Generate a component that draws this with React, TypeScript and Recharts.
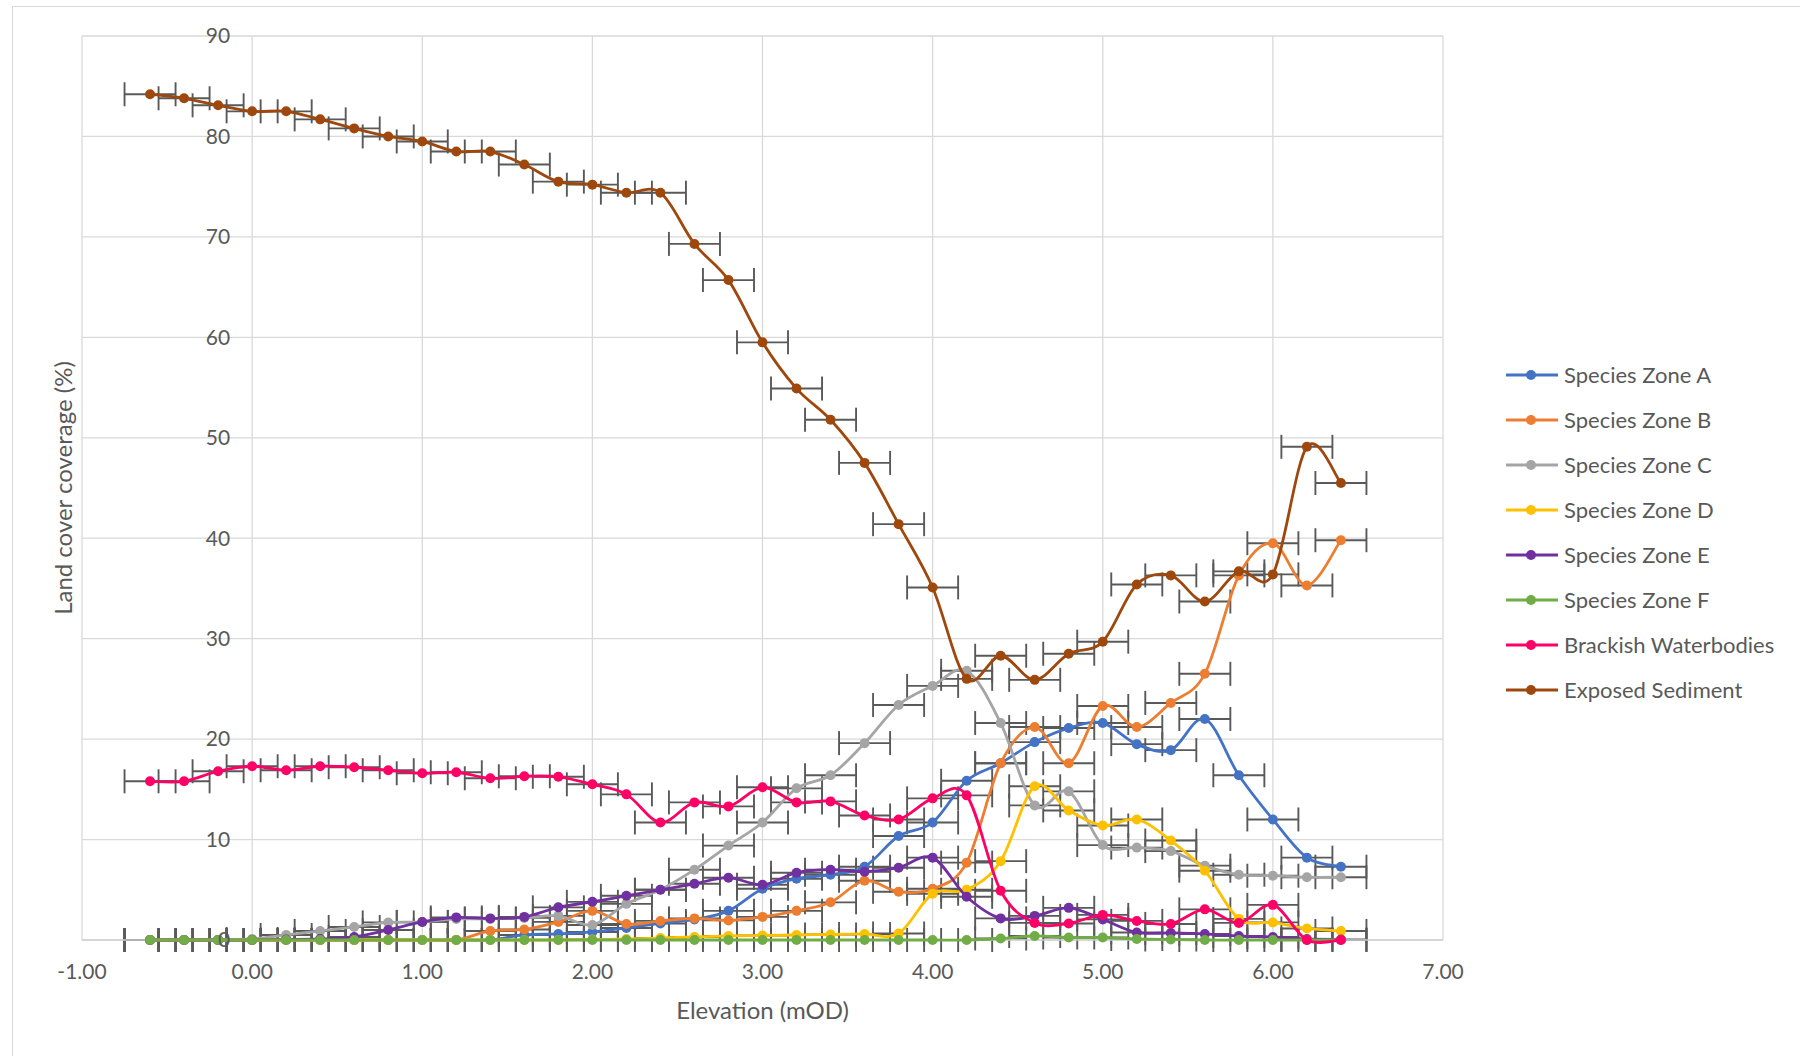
import { ComposedChart, Scatter, XAxis, YAxis, CartesianGrid, ErrorBar } from "recharts";

// elevation of each sample band (mOD) and its +/- range
const elevation = [
  -0.6, -0.4, -0.2, 0, 0.2, 0.4, 0.6, 0.8, 1.0, 1.2, 1.4, 1.6, 1.8, 2.0, 2.2, 2.4, 2.6, 2.8,
  3.0, 3.2, 3.4, 3.6, 3.8, 4.0, 4.2, 4.4, 4.6, 4.8, 5.0, 5.2, 5.4, 5.6, 5.8, 6.0, 6.2, 6.4,
];
const elevationError = 0.15;

// land cover coverage (%) per band
const zoneA = [
  0, 0, 0, 0, 0, 0, 0, 0, 0, 0, 0, 0.5, 0.6, 0.8, 1.2, 1.65, 2.05, 2.9,
  5.1, 6.1, 6.5, 7.3, 10.35, 11.7, 15.85, 17.6, 19.7, 21.1, 21.6, 19.5, 18.9, 22.0, 16.4, 12.0, 8.2, 7.3,
];
const zoneB = [
  0, 0, 0, 0, 0, 0, 0, 0, 0, 0, 0.9, 1.05, 1.8, 2.9, 1.6, 1.9, 2.15, 1.95,
  2.3, 2.9, 3.75, 5.9, 4.8, 5.1, 7.7, 17.6, 21.2, 17.6, 23.3, 21.2, 23.6, 26.5, 36.3, 39.5, 35.3, 39.8,
];
const zoneC = [
  0, 0, 0, 0.1, 0.5, 0.9, 1.3, 1.75, 1.8, 2.1, 2.1, 2.2, 2.4, 1.5, 3.6, 5.0, 7.0, 9.4,
  11.7, 15.1, 16.4, 19.6, 23.4, 25.3, 26.8, 21.6, 13.4, 14.8, 9.45, 9.2, 8.85, 7.4, 6.5, 6.4, 6.25, 6.25,
];
const zoneD = [
  0, 0, 0, 0, 0, 0, 0, 0, 0, 0, 0, 0, 0, 0.05, 0.1, 0.2, 0.3, 0.4,
  0.45, 0.5, 0.55, 0.6, 0.65, 4.6, 5.0, 7.85, 15.3, 12.9, 11.4, 12.0, 9.9, 6.9, 2.1, 1.75, 1.15, 0.9,
];
const zoneE = [
  0, 0, 0, 0, 0.05, 0.1, 0.3, 1.0, 1.8, 2.25, 2.15, 2.3, 3.25, 3.8, 4.4, 5.0, 5.6, 6.2,
  5.5, 6.7, 7.0, 6.8, 7.2, 8.2, 4.3, 2.15, 2.4, 3.2, 2.05, 0.75, 0.7, 0.6, 0.4, 0.3, 0.1, 0.05,
];
const zoneF = [
  0, 0, 0, 0, 0, 0, 0, 0, 0, 0, 0, 0, 0, 0, 0, 0, 0, 0,
  0, 0, 0, 0, 0, 0, 0, 0.15, 0.4, 0.25, 0.25, 0.1, 0.05, 0, 0, 0, 0, 0,
];
const brackish = [
  15.8, 15.8, 16.8, 17.3, 16.9, 17.3, 17.2, 16.9, 16.6, 16.7, 16.1, 16.3, 16.25, 15.5, 14.5, 11.7, 13.7, 13.3,
  15.2, 13.7, 13.8, 12.4, 12.0, 14.1, 14.4, 4.9, 1.7, 1.65, 2.5, 1.9, 1.6, 3.05, 1.7, 3.5, 0, 0,
];
const exposed = [
  84.2, 83.8, 83.1, 82.5, 82.5, 81.7, 80.8, 80.0, 79.5, 78.5, 78.5, 77.2, 75.5, 75.2, 74.4, 74.4, 69.3, 65.7,
  59.5, 54.9, 51.8, 47.5, 41.4, 35.1, 26.0, 28.3, 25.9, 28.5, 29.7, 35.4, 36.3, 33.7, 36.7, 36.4, 49.1, 45.5,
];

const xTicks = [-1, 0, 1, 2, 3, 4, 5, 6, 7];
const yTicks = [0, 10, 20, 30, 40, 50, 60, 70, 80, 90];

const series = [
  { name: "Species Zone A", color: "#4472C4", values: zoneA },
  { name: "Species Zone B", color: "#ED7D31", values: zoneB },
  { name: "Species Zone C", color: "#A5A5A5", values: zoneC },
  { name: "Species Zone D", color: "#FFC000", values: zoneD },
  { name: "Species Zone E", color: "#7030A0", values: zoneE },
  { name: "Species Zone F", color: "#70AD47", values: zoneF },
  { name: "Brackish Waterbodies", color: "#FF0066", values: brackish },
  { name: "Exposed Sediment", color: "#9E480E", values: exposed },
];

const W = 1800;
const H = 1056;
const PLOT_LEFT = 82;
const PLOT_RIGHT = 1443;
const PLOT_TOP = 36;
const PLOT_BOTTOM = 940;
const UNIT_PX = (PLOT_RIGHT - PLOT_LEFT) / (xTicks[xTicks.length - 1] - xTicks[0]);
const FONT = "Lato, 'Liberation Sans', sans-serif";
const TEXT = "#595959";
const DOT_R = 5;

// Excel-style smoothed line (cardinal spline through every point)
function excelSmooth(context: any) {
  let pts: number[][] = [];
  return {
    areaStart() {},
    areaEnd() {},
    lineStart() {
      pts = [];
    },
    point(x: number, y: number) {
      pts.push([+x, +y]);
    },
    lineEnd() {
      if (!pts.length) return;
      context.moveTo(pts[0][0], pts[0][1]);
      for (let i = 0; i < pts.length - 1; i++) {
        const p0 = pts[i - 1] || pts[i];
        const p1 = pts[i];
        const p2 = pts[i + 1];
        const p3 = pts[i + 2] || p2;
        context.bezierCurveTo(
          p1[0] + (p2[0] - p0[0]) / 6,
          p1[1] + (p2[1] - p0[1]) / 6,
          p2[0] - (p3[0] - p1[0]) / 6,
          p2[1] - (p3[1] - p1[1]) / 6,
          p2[0],
          p2[1]
        );
      }
    },
  };
}

const YTick = ({ y, payload }: any) => (
  <text x={PLOT_LEFT + UNIT_PX - 22} y={y} dy="0.35em" textAnchor="end" fill={TEXT} fontSize={21} fontFamily={FONT}>
    {payload.value}
  </text>
);

const XTick = ({ x, payload }: any) => (
  <text x={x} y={PLOT_BOTTOM + 32} dy="0.35em" textAnchor="middle" fill={TEXT} fontSize={21} fontFamily={FONT}>
    {Number(payload.value).toFixed(2)}
  </text>
);

const toPoints = (values: number[]) => elevation.map((x, i) => ({ x, y: values[i], err: elevationError }));

export default function App() {
  return (
    <div style={{ position: "relative", width: W, height: H, overflow: "hidden", background: "#fff" }}>
      <style>{"body{margin:0}"}</style>
      <div
        style={{
          position: "absolute",
          left: 12,
          top: 6,
          width: W,
          height: H,
          border: "1px solid #d9d9d9",
        }}
      />
      <div style={{ position: "absolute", left: 0, top: 0 }}>
        <ComposedChart
          width={W}
          height={H}
          margin={{ top: PLOT_TOP, right: W - PLOT_RIGHT, bottom: 0, left: PLOT_LEFT - 60 }}
        >
          <CartesianGrid stroke="#d9d9d9" strokeWidth={1.3} />
          <XAxis
            type="number"
            dataKey="x"
            domain={[-1, 7]}
            ticks={xTicks}
            interval={0}
            allowDataOverflow
            height={H - PLOT_BOTTOM}
            axisLine={{ stroke: "#d0d0d0", strokeWidth: 1.3 }}
            tickLine={false}
            tick={<XTick />}
            label={{ value: "Elevation (mOD)", position: "center", dy: 12, fill: TEXT, fontSize: 24, fontFamily: FONT }}
          />
          <YAxis
            type="number"
            dataKey="y"
            domain={[0, 90]}
            ticks={yTicks}
            interval={0}
            width={60}
            axisLine={false}
            tickLine={false}
            tick={<YTick />}
            label={{
              value: "Land cover coverage (%)",
              angle: -90,
              position: "center",
              dx: 11,
              fill: TEXT,
              fontSize: 24,
              fontFamily: FONT,
            }}
          />
          {series.map((s) => (
            <Scatter
              key={s.name}
              name={s.name}
              data={toPoints(s.values)}
              fill={s.color}
              line={{ stroke: s.color, strokeWidth: 2.8 }}
              lineJointType={excelSmooth as any}
              shape={(p: any) => <circle cx={p.cx} cy={p.cy} r={DOT_R} fill={s.color} />}
              isAnimationActive={false}
            >
              <ErrorBar dataKey="err" direction="x" width={12} stroke="#595959" strokeWidth={1.9} />
            </Scatter>
          ))}
        </ComposedChart>
      </div>
      <div style={{ position: "absolute", left: 1506, top: 352.5, fontFamily: FONT, fontSize: 22, color: TEXT }}>
        {series.map((s) => (
          <div key={s.name} style={{ display: "flex", alignItems: "center", height: 45 }}>
            <svg width={52} height={12}>
              <line x1={0} y1={6} x2={52} y2={6} stroke={s.color} strokeWidth={2.8} />
              <circle cx={25} cy={6} r={DOT_R} fill={s.color} />
            </svg>
            <span style={{ marginLeft: 6, lineHeight: 1, whiteSpace: "nowrap" }}>{s.name}</span>
          </div>
        ))}
      </div>
    </div>
  );
}
